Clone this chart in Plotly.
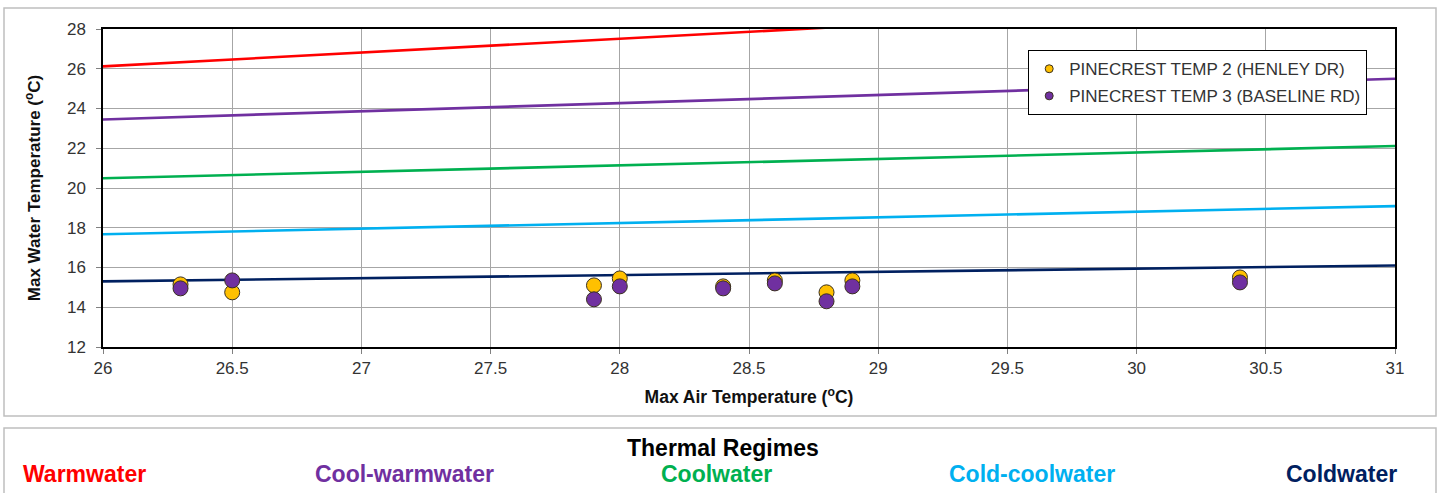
import plotly.graph_objects as go

# ---- data ----
air_temp = [26.3, 26.5, 27.9, 28.0, 28.4, 28.6, 28.8, 28.9, 30.4]
temp2_henley = [15.15, 14.75, 15.1, 15.45, 15.05, 15.35, 14.75, 15.35, 15.5]
temp3_baseline = [14.95, 15.35, 14.4, 15.05, 14.95, 15.2, 14.3, 15.05, 15.25]

regime_x = [26, 31]
regime_names = ["Warmwater", "Cool-warmwater", "Coolwater", "Cold-coolwater", "Coldwater"]
regime_colors = ["#FF0000", "#7030A0", "#00B050", "#00B0F0", "#002060"]
regime_y = [
    [26.12, 29.6],
    [23.45, 25.5],
    [20.49, 22.11],
    [17.67, 19.09],
    [15.3, 16.1],
]
x_ticks = [26, 26.5, 27, 27.5, 28, 28.5, 29, 29.5, 30, 30.5, 31]
y_ticks = [12, 14, 16, 18, 20, 22, 24, 26, 28]

series_names = ["PINECREST TEMP 2 (HENLEY DR)", "PINECREST TEMP 3 (BASELINE RD)"]
series_colors = ["#FFC000", "#7030A0"]

W, H = 1440, 493
L, R, T, B = 103, 1395, 29, 347  # plot area pixels

def px(x):
    return (x - L) / (R - L)

def py(y):
    return (B - y) / (B - T)

fig = go.Figure()

for name, color, ys in zip(regime_names, regime_colors, regime_y):
    fig.add_trace(go.Scatter(x=regime_x, y=ys, mode="lines", name=name,
                             line=dict(color=color, width=2.6), showlegend=False,
                             hoverinfo="skip"))

for i, (name, color, ys) in enumerate(zip(series_names, series_colors,
                                          [temp2_henley, temp3_baseline])):
    fig.add_trace(go.Scatter(x=air_temp, y=ys, mode="markers", name=name,
                             marker=dict(color=color, size=15,
                                         line=dict(color="#3a3020", width=1)),
                             showlegend=False))
    # legend entry with small marker
    fig.add_trace(go.Scatter(x=[None], y=[None], mode="markers", name=name,
                             legendgroup=f"g{i}",
                             marker=dict(color=color, size=8,
                                         line=dict(color="#3a3020", width=1)),
                             showlegend=True))

shapes = [
    dict(type="rect", xref="paper", yref="paper",
         x0=px(4), x1=px(1436), y0=py(416), y1=py(8),
         line=dict(color="#BFBFBF", width=1.5), fillcolor="rgba(0,0,0,0)", layer="below"),
    dict(type="rect", xref="paper", yref="paper",
         x0=px(4), x1=px(1436), y0=py(500), y1=py(428),
         line=dict(color="#BFBFBF", width=1.5), fillcolor="rgba(0,0,0,0)", layer="below"),
]

annotations = [
    dict(text="<b>Thermal Regimes</b>", xref="paper", yref="paper",
         x=px(723), y=py(448), showarrow=False, xanchor="center", yanchor="middle",
         font=dict(size=23, color="#000000", family="Liberation Sans, Arial")),
]
label_centers = [84, 404, 716, 1032, 1341]
for name, color, cx in zip(regime_names, regime_colors, label_centers):
    annotations.append(dict(text="<b>" + name + "</b>", xref="paper", yref="paper",
                            x=px(cx), y=py(474), showarrow=False,
                            xanchor="center", yanchor="middle",
                            font=dict(size=23, color=color,
                                      family="Liberation Sans, Arial")))

fig.update_layout(
    width=W, height=H,
    margin=dict(l=L, r=W - R, t=T, b=H - B, pad=0),
    paper_bgcolor="white", plot_bgcolor="white",
    font=dict(family="Liberation Sans, Arial", color="#222222"),
    shapes=shapes, annotations=annotations,
    legend=dict(x=px(1028), y=py(50), xanchor="left", yanchor="top",
                bgcolor="white", bordercolor="#000000", borderwidth=1.2,
                font=dict(size=17, color="#333333"),
                itemwidth=30, tracegroupgap=2),
    showlegend=True,
)

fig.update_xaxes(range=[26, 31], tickvals=x_ticks, ticktext=[f"{v:g}" for v in x_ticks],
                 showgrid=True, gridcolor="#A6A6A6", gridwidth=1,
                 showline=True, linecolor="#000000", linewidth=1.5, mirror=True,
                 ticks="outside", ticklen=5, tickcolor="#808080",
                 tickfont=dict(size=17, color="#333333"), zeroline=False,
                 title=dict(text="<b>Max Air Temperature (<sup>o</sup>C)</b>",
                            font=dict(size=17.5, color="#111111"), standoff=14))
fig.update_yaxes(range=[12, 28], tickvals=y_ticks,
                 showgrid=True, gridcolor="#A6A6A6", gridwidth=1,
                 showline=True, linecolor="#000000", linewidth=1.5, mirror=True,
                 ticks="outside", ticklen=5, tickcolor="#808080",
                 ticklabelstandoff=7,
                 tickfont=dict(size=17, color="#333333"), zeroline=False,
                 title=dict(text="<b>Max Water Temperature (<sup>o</sup>C)</b>",
                            font=dict(size=17, color="#111111"), standoff=22))

fig.write_html("out.html")
